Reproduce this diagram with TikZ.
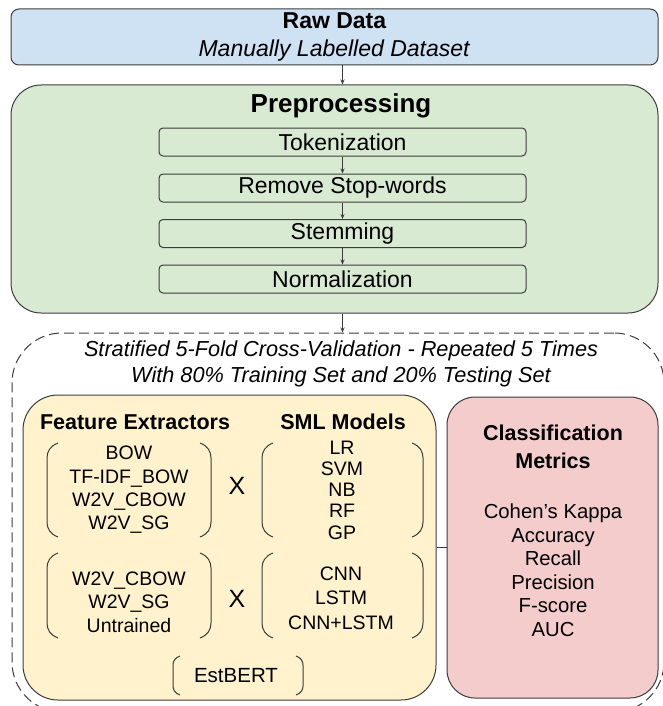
\documentclass[tikz,border=0pt]{standalone}
\usepackage{fontspec}
\setmainfont{Liberation Sans}
\usetikzlibrary{arrows.meta}
\definecolor{rawblue}{HTML}{CFE2F3}
\definecolor{prepgreen}{HTML}{D9EAD3}
\definecolor{featyellow}{HTML}{FFF2CC}
\definecolor{metpink}{HTML}{F4CCCC}
\definecolor{edgegray}{HTML}{3C3C3C}
\tikzset{
  rawbox/.style={
    rectangle, rounded corners=8pt, minimum width=647pt, minimum height=56pt,
    align=center, draw=edgegray, line width=1pt, fill=rawblue
  },
  prepbox/.style={
    rectangle, rounded corners=30pt, minimum width=647pt, minimum height=228pt,
    draw=edgegray, line width=1pt, fill=prepgreen
  },
  stepbox/.style={
    rectangle, rounded corners=4pt, minimum width=367pt, minimum height=28pt,
    draw=edgegray, line width=1pt, fill=prepgreen,
    font=\fontsize{23}{26}\selectfont
  },
  cvbox/.style={
    rectangle, rounded corners=50pt, minimum width=652pt, minimum height=379pt,
    draw=edgegray, line width=1pt, dash pattern=on 10pt off 5pt
  },
  featbox/.style={
    rectangle, rounded corners=35pt, minimum width=413pt, minimum height=305pt,
    draw=edgegray, line width=1pt, fill=featyellow
  },
  metbox/.style={
    rectangle, rounded corners=28pt, minimum width=211pt, minimum height=301pt,
    draw=edgegray, line width=1pt, fill=metpink
  },
  head/.style={font=\fontsize{21.5}{28}\selectfont\bfseries, align=center},
  items/.style={font=\fontsize{19.5}{23.3}\selectfont, align=center},
  times/.style={font=\fontsize{25}{28}\selectfont},
  brak/.style={line width=1pt, draw=edgegray},
  arrow/.style={
    -{Stealth[length=5pt,width=4pt]}, line width=0.8pt, draw=edgegray
  }
}

\begin{document}
\begin{tikzpicture}[x=1pt, y=-1pt, every node/.style={inner sep=0pt}]
    \path[use as bounding box, clip] (0,0) rectangle (663,706);

    % Raw data
    \node[rawbox, font=\fontsize{23}{28}\selectfont] (raw) at (334.5,37)
      {\textbf{Raw Data}\\\textit{Manually Labelled Dataset}};

    % Preprocessing
    \node[prepbox] (pre) at (334.5,199) {};
    \node[font=\fontsize{26}{30}\selectfont\bfseries] (prettl) at (341,106) {Preprocessing};
    \node[stepbox] (tok) at (342.5,142) {Tokenization};
    \node[stepbox] (stop) at (342.5,188) {Remove Stop-words};
    \node[stepbox] (stem) at (342.5,233.5) {Stemming};
    \node[stepbox] (norm) at (342.5,279) {Normalization};

    \draw[arrow] (raw.south -| tok.north) -- (pre.north -| tok.north);
    \draw[arrow] (tok) -- (stop);
    \draw[arrow] (stop) -- (stem);
    \draw[arrow] (stem) -- (norm);

    % Cross-validation block
    \node[cvbox] (cv) at (338,522.5) {};
    \node[font=\fontsize{21.7}{26.5}\selectfont\itshape, align=center] (cvttl) at (341,364)
      {Stratified 5-Fold Cross-Validation - Repeated 5 Times\\With 80\% Training Set and 20\% Testing Set};
    \draw[arrow] (pre.south -| norm.south) -- (cv.north -| norm.south);

    \node[featbox] (feat) at (229.5,547.5) {};
    \node[metbox] (met) at (552.5,547.5) {};
    \draw[line width=1pt, draw=edgegray] (feat.east) -- (met.west);

    % Feature extractors x models
    \node[head] (fehead) at (135,422) {Feature Extractors};
    \node[head] (smlhead) at (343,422) {SML Models};
    \node[items] (fe1) at (129,490) {BOW\\TF-IDF\_BOW\\W2V\_CBOW\\W2V\_SG};
    \node[times] (x1) at (237,486) {X};
    \node[items, font=\fontsize{19.5}{21.3}\selectfont] (sml) at (342,490) {LR\\SVM\\NB\\RF\\GP};
    \node[items] (fe2) at (129,602) {W2V\_CBOW\\W2V\_SG\\Untrained};
    \node[times] (x2) at (237,599) {X};
    \node[items, font=\fontsize{19.5}{24.5}\selectfont] (dl) at (341,598) {CNN\\LSTM\\CNN+LSTM};
    \node[items, font=\fontsize{20.5}{24}\selectfont] (bert) at (236,676) {EstBERT};

    % Brackets: left x, right x, top, bottom, curl, bend
    \foreach \xl/\xr/\yt/\yb/\c/\v in {47/211/443/537/11/15, 262/423/443/537/11/15,
        47/211/553/638/11/15, 262/423/553/638/11/15, 173/303/656/695/7/9}{
      \draw[brak] (\xl+\c,\yt) .. controls (\xl+0.3*\c,\yt+0.2*\v) and (\xl,\yt+0.55*\v) .. (\xl,\yt+\v)
        -- (\xl,\yb-\v) .. controls (\xl,\yb-0.55*\v) and (\xl+0.3*\c,\yb-0.2*\v) .. (\xl+\c,\yb);
      \draw[brak] (\xr-\c,\yt) .. controls (\xr-0.3*\c,\yt+0.2*\v) and (\xr,\yt+0.55*\v) .. (\xr,\yt+\v)
        -- (\xr,\yb-\v) .. controls (\xr,\yb-0.55*\v) and (\xr-0.3*\c,\yb-0.2*\v) .. (\xr-\c,\yb);
    }

    % Metrics
    \node[head, font=\fontsize{21.5}{28}\selectfont\bfseries] (methead) at (553,447) {Classification\\Metrics};
    \node[items, font=\fontsize{20.3}{23.5}\selectfont] (metlist) at (553,570)
      {Cohen's Kappa\\Accuracy\\Recall\\Precision\\F-score\\AUC};

    \end{tikzpicture}
\end{document}
